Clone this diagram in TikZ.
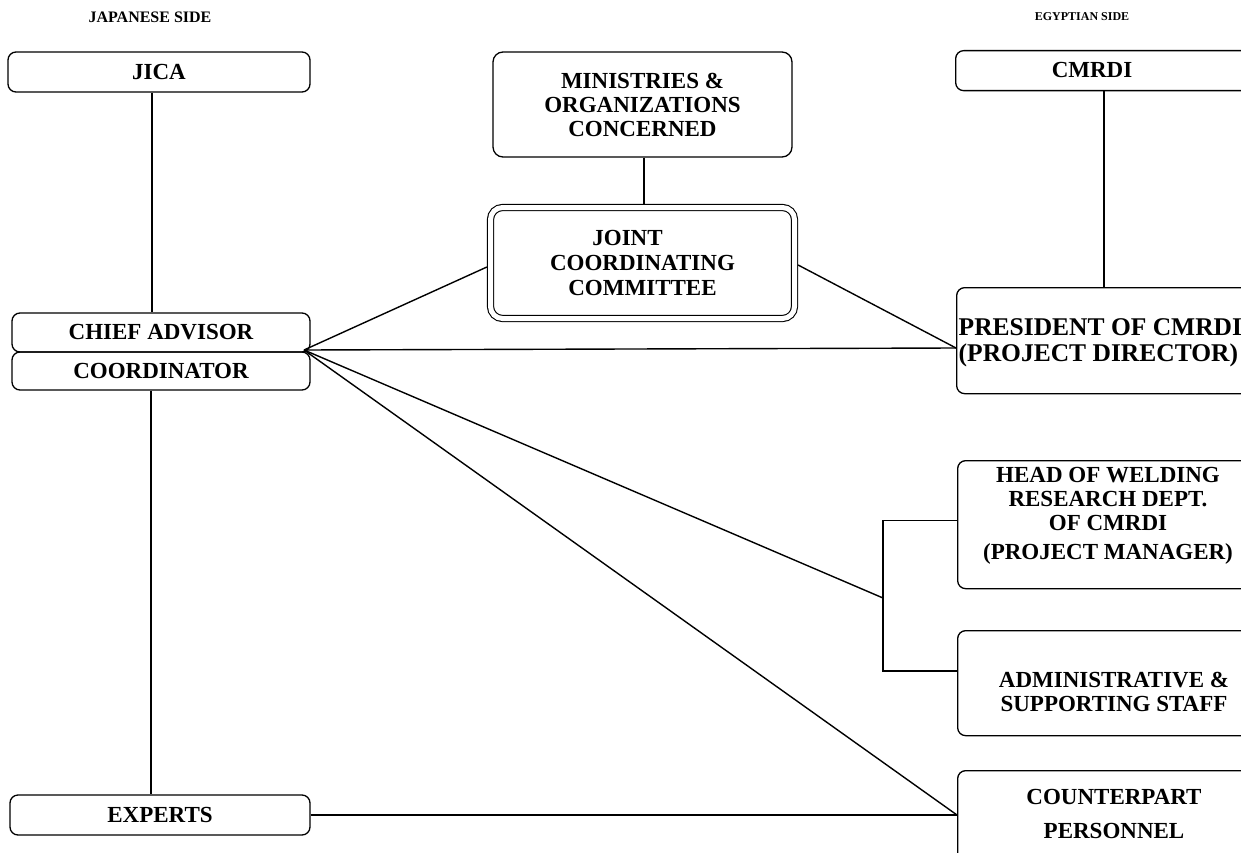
\documentclass[tikz,border=0pt]{standalone}
\usepackage{fontspec}
\setmainfont{Liberation Serif}
\usetikzlibrary{positioning}

\begin{document}
\begin{tikzpicture}[x=1pt, y=-1pt, line width=1.4pt]
		\tikzstyle{box}=[draw=black, rounded corners=8pt, line width=1.3pt, inner sep=0pt, align=center, font=\bfseries\fontsize{23}{24}\selectfont]
		\tikzstyle{txt}=[inner sep=0pt, align=center, font=\bfseries\fontsize{23}{24}\selectfont]
		\tikzstyle{side}=[inner sep=0pt, font=\bfseries\fontsize{16}{18}\selectfont]
		\useasboundingbox (0,0) rectangle (1241,853);
		
		% Headings
		\node[side] (japside) at (150,17) {JAPANESE SIDE};
		\node[side, font=\bfseries\fontsize{12}{14}\selectfont] (egyside) at (1082,17) {EGYPTIAN SIDE};
		
		% Japanese side
		\node[box, minimum width=302pt, minimum height=40pt] (jica) at (159,72) {JICA};
		\node[box, minimum width=298pt, minimum height=39pt] (chief) at (161,332.5) {CHIEF ADVISOR};
		\node[box, minimum width=298pt, minimum height=38pt] (coord) at (161,371) {COORDINATOR};
		\node[box, minimum width=300pt, minimum height=40pt] (experts) at (160,815) {EXPERTS};
		
		% Middle
		\node[box, rounded corners=10pt, minimum width=299pt, minimum height=105pt] (minist) at (642.5,104.5) {MINISTRIES \&\\ORGANIZATIONS\\CONCERNED};
		\node[box, double, double distance=5pt, line width=1.1pt, outer sep=3.6pt, rounded corners=12pt, minimum width=304pt, minimum height=111pt] (jcc) at (642.5,263) {JOINT\hspace*{30pt}\\[1pt]COORDINATING\\[1pt]COMMITTEE};
		
		% Egyptian side (boxes run off the right edge)
		\node[box, minimum width=340pt, minimum height=40pt, anchor=north west] (cmrdi) at (955,50) {};
		\node[txt] (cmrditxt) at (1092,70) {CMRDI};
		\node[box, minimum width=340pt, minimum height=106pt, anchor=north west] (pres) at (956,287) {};
		\node[txt, anchor=west, align=left, font=\bfseries\fontsize{25.5}{26}\selectfont] (prestxt) at (958,343) {PRESIDENT OF CMRDI\\(PROJECT DIRECTOR)};
		\node[box, minimum width=340pt, minimum height=128pt, anchor=north west] (head) at (957,460) {};
		\node[txt] (headtxt) at (1108,516) {HEAD OF WELDING\\RESEARCH DEPT.\\OF CMRDI\\[5pt](PROJECT MANAGER)};
		\node[box, minimum width=340pt, minimum height=105pt, anchor=north west] (admin) at (957,630) {};
		\node[txt] (admintxt) at (1114,692) {ADMINISTRATIVE \&\\SUPPORTING STAFF};
		\node[box, minimum width=340pt, minimum height=120pt, anchor=north west] (cpart) at (957,770) {};
		\node[txt] (cparttxt) at (1114,814) {COUNTERPART\\[10pt]PERSONNEL};
		
		% Joints
		\coordinate (hub) at (304,350);
		\coordinate (presin) at (956,348);
		\coordinate (brk) at (883,598);
		\coordinate (cpin) at (957,815);
		
		% Vertical links
		\draw ([xshift=-7pt]jica.south) -- ([xshift=-7pt]jica.south |- chief.north);
		\draw ([xshift=-10pt]coord.south) -- ([xshift=-10pt]coord.south |- experts.north);
		\draw ([xshift=1.5pt]minist.south) -- ([xshift=1.5pt]minist.south |- jcc.north);
		\draw ([xshift=149pt]cmrdi.south west) -- ([xshift=149pt]cmrdi.south west |- pres.north);
		
		% Bracket
		\draw ([yshift=4pt]head.west) -- ++(-74,0) |- ([yshift=12pt]admin.west);
		
		% Chief advisor -> Egyptian side
		\foreach \t in {presin, brk, cpin}
		\draw (hub) -- (\t);
		\draw (hub) -- ([yshift=-4pt]jcc.west);
		\draw ([yshift=-2pt]jcc.east) -- (presin);
		\draw (experts.east) -- (cpin);
\end{tikzpicture}
\end{document}
